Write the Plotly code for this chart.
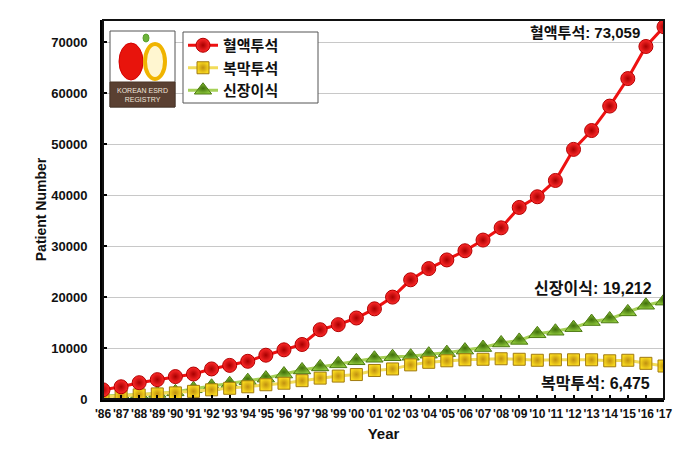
import plotly.graph_objects as go

years = ["'86", "'87", "'88", "'89", "'90", "'91", "'92", "'93", "'94", "'95", "'96", "'97",
         "'98", "'99", "'00", "'01", "'02", "'03", "'04", "'05", "'06", "'07", "'08", "'09",
         "'10", "'11", "'12", "'13", "'14", "'15", "'16", "'17"]

hemodialysis = [1800, 2400, 3200, 3800, 4400, 4900, 5900, 6600, 7400, 8600, 9650, 10700,
                13600, 14600, 15900, 17700, 20000, 23400, 25600, 27300, 29100, 31200, 33600, 37600,
                39700, 42900, 49000, 52700, 57500, 62900, 69200, 73059]

peritoneal = [400, 600, 800, 1000, 1200, 1500, 1800, 2100, 2400, 2800, 3100, 3600,
              4100, 4500, 4800, 5600, 5900, 6700, 7200, 7500, 7700, 7800, 7900, 7800,
              7600, 7700, 7700, 7700, 7500, 7600, 7000, 6475]

transplant = [600, 700, 900, 1100, 1400, 2000, 2500, 3000, 3600, 4100, 4900, 5700,
              6300, 6900, 7500, 8000, 8300, 8400, 8800, 9100, 9600, 10100, 11000, 11500,
              12800, 13300, 14000, 15200, 15700, 17100, 18400, 19212]

names = ["혈액투석", "복막투석", "신장이식"]
end_labels = ["혈액투석: 73,059", "복막투석: 6,475", "신장이식: 19,212"]

FONT = "Arial, 'Liberation Sans', 'Noto Sans CJK KR', sans-serif"

W, H = 681, 450
L, R, T, B = 103, 17, 20, 51
PW, PH = W - L - R, H - T - B


def px(x):
    return (x - L) / PW


def py(y):
    return (H - B - y) / PH


fig = go.Figure()

fig.add_trace(go.Scatter(
    x=years, y=transplant, name=names[2], mode="lines+markers", legendrank=3,
    line=dict(color="#a6d157", width=3),
    marker=dict(symbol="triangle-up", size=15, color="#8cc63a",
                gradient=dict(type="radial", color="#3f6e0a"),
                line=dict(color="#4d7a12", width=1)),
))
fig.add_trace(go.Scatter(
    x=years, y=peritoneal, name=names[1], mode="lines+markers", legendrank=2,
    line=dict(color="#f2dc5a", width=3),
    marker=dict(symbol="square", size=12, color="#f8d81e",
                gradient=dict(type="radial", color="#c09010"),
                line=dict(color="#a07a10", width=1)),
))
fig.add_trace(go.Scatter(
    x=years, y=hemodialysis, name=names[0], mode="lines+markers", legendrank=1,
    line=dict(color="#ee1111", width=3),
    marker=dict(symbol="circle", size=14, color="#ff2a2a",
                gradient=dict(type="radial", color="#a80000"),
                line=dict(color="#b00000", width=1)),
))

# end-value annotations
fig.add_annotation(x=years[-1], y=hemodialysis[-1], text=end_labels[0], showarrow=False,
                   xanchor="right", yanchor="middle", xshift=-22, yshift=-6,
                   font=dict(family=FONT, size=15, color="#111", weight="bold"))
fig.add_annotation(x=years[-1], y=transplant[-1], text=end_labels[2], showarrow=False,
                   xanchor="right", yanchor="middle", xshift=-10, yshift=13,
                   font=dict(family=FONT, size=16, color="#111", weight="bold"))
fig.add_annotation(x=years[-1], y=peritoneal[-1], text=end_labels[1], showarrow=False,
                   xanchor="right", yanchor="middle", xshift=-12, yshift=-17,
                   font=dict(family=FONT, size=16, color="#111", weight="bold"))

# plot frame (thin top/right)
fig.add_shape(type="rect", xref="paper", yref="paper", x0=0, x1=1, y0=0, y1=1,
              line=dict(color="#111", width=2), layer="above")

# legend frame
fig.add_shape(type="rect", xref="paper", yref="paper", x0=px(183), x1=px(318), y0=py(103), y1=py(32),
              line=dict(color="#555", width=1), fillcolor="white", layer="above")

# logo (Korean ESRD registry) drawn with shapes
lx0, lx1, ly0, ly1 = 110, 175, 31, 107
fig.add_shape(type="rect", xref="paper", yref="paper", x0=px(lx0), x1=px(lx1), y0=py(ly1), y1=py(ly0),
              line=dict(color="#555", width=1), fillcolor="white", layer="above")
fig.add_shape(type="rect", xref="paper", yref="paper", x0=px(lx0), x1=px(lx1), y0=py(ly1), y1=py(82),
              line=dict(color="#4a3526", width=1), fillcolor="#5a4032", layer="above")
fig.add_shape(type="circle", xref="paper", yref="paper", x0=px(119), x1=px(143), y0=py(80), y1=py(43),
              line=dict(color="#d40000", width=1), fillcolor="#e8140c", layer="above")
fig.add_shape(type="circle", xref="paper", yref="paper", x0=px(145), x1=px(165), y0=py(79), y1=py(44),
              line=dict(color="#f0b400", width=4), fillcolor="#fff6d0", layer="above")
fig.add_shape(type="circle", xref="paper", yref="paper", x0=px(143), x1=px(149), y0=py(42), y1=py(34),
              line=dict(color="#5aa02c", width=1), fillcolor="#6cb33a", layer="above")
fig.add_annotation(xref="paper", yref="paper", x=px(142.5), y=py(94.5), text="KOREAN ESRD<br>REGISTRY",
                   showarrow=False, xanchor="center", yanchor="middle",
                   font=dict(family=FONT, size=7, color="#f0e6dc"), align="center")

fig.update_layout(
    width=W, height=H,
    margin=dict(l=L, r=R, t=T, b=B, pad=0, autoexpand=False),
    paper_bgcolor="white", plot_bgcolor="white",
    font=dict(family=FONT, color="#111"),
    showlegend=True,
    legend=dict(x=px(183), y=py(29), xanchor="left", yanchor="top",
                bgcolor="rgba(0,0,0,0)", borderwidth=0,
                font=dict(family=FONT, size=15, color="#111", weight="bold"),
                itemwidth=30, tracegroupgap=0),
    xaxis=dict(type="category", range=[0, len(years) - 1], automargin=False,
               showline=True, linecolor="#000", linewidth=3,
               ticks="inside", ticklen=4, tickcolor="#000", tickwidth=2,
               showgrid=False, zeroline=False, tickangle=0, ticklabelstandoff=2,
               tickfont=dict(family=FONT, size=12, color="#111", weight="bold"),
               title=dict(text="Year", font=dict(family=FONT, size=15, color="#111", weight="bold"),
                          standoff=9)),
    yaxis=dict(range=[0, 74400], tickvals=[0, 10000, 20000, 30000, 40000, 50000, 60000, 70000],
               tickformat="d", automargin=False,
               showline=True, linecolor="#000", linewidth=3,
               ticks="inside", ticklen=4, tickcolor="#000", tickwidth=2,
               showgrid=True, gridcolor="#c8c8c8", gridwidth=1, zeroline=False,
               ticklabelstandoff=10,
               tickfont=dict(family=FONT, size=13, color="#111", weight="bold"),
               title=dict(text="Patient Number", font=dict(family=FONT, size=14, color="#111", weight="bold"),
                          standoff=2)),
)

fig.write_html("out.html")
